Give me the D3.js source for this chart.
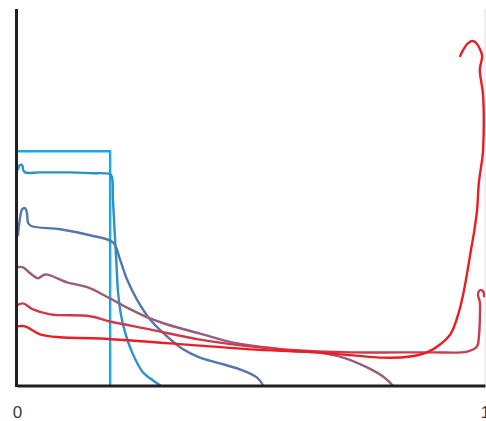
<!DOCTYPE html>
<html>
<head>
<meta charset="utf-8">
<script src="https://cdn.jsdelivr.net/npm/d3@7"></script>
<style>
  html, body { margin: 0; padding: 0; background: #fff; }
  svg { display: block; }
  .axis text { font-family: "Liberation Sans", Arial, sans-serif; font-size: 17px; fill: #3a3a3a; }
  .curve { fill: none; stroke-width: 2.4; stroke-linejoin: round; stroke-linecap: round; }
</style>
</head>
<body>
<div id="chart"></div>
<script>
// x values 0..1, y values in arbitrary units 0..100
const tickLabels = [0, 1];

const lightBlue = [[0, 62.2], [0.199, 62.2], [0.199, 0]];

const midBlue = [[0.002, 57.4], [0.006, 58.5], [0.011, 58.5], [0.013, 57.4], [0.017, 56.6], [0.049, 56.6],
  [0.107, 56.6], [0.156, 56.4], [0.199, 56.1], [0.203, 55.3], [0.205, 49.5], [0.208, 42.3], [0.212, 33.5],
  [0.216, 24.7], [0.222, 18.9], [0.231, 14.1], [0.246, 8.8], [0.269, 3.5], [0.288, 1.6], [0.306, 0]];

const steelBlue = [[0.002, 39.9], [0.006, 44.1], [0.011, 46.8], [0.017, 47.1], [0.021, 46.0], [0.024, 43.1],
  [0.032, 42.3], [0.092, 41.5], [0.156, 39.9], [0.205, 38.0], [0.220, 33.5], [0.235, 28.2], [0.256, 22.9],
  [0.284, 17.6], [0.321, 13.0], [0.355, 9.6], [0.391, 7.4], [0.427, 6.1], [0.476, 4.3], [0.513, 2.1], [0.526, 0]];

const mauve = [[0, 31.4], [0.013, 31.4], [0.028, 29.8], [0.045, 28.5], [0.060, 29.5], [0.107, 27.4],
  [0.150, 26.1], [0.199, 23.1], [0.235, 20.7], [0.284, 17.8], [0.321, 16.2], [0.391, 13.8], [0.462, 11.4],
  [0.534, 10.1], [0.605, 9.0], [0.641, 8.8], [0.697, 7.4], [0.748, 4.8], [0.782, 2.4], [0.803, 0]];

const darkRed = [[0, 21.3], [0.013, 21.8], [0.034, 20.2], [0.071, 18.9], [0.156, 18.4], [0.199, 17.0],
  [0.284, 14.9], [0.391, 12.2], [0.498, 10.4], [0.605, 9.3], [0.712, 8.8], [0.818, 8.8], [0.889, 8.8],
  [0.962, 9.0], [0.983, 10.4], [0.987, 13.0], [0.989, 17.6], [0.989, 22.1], [0.985, 24.2], [0.989, 25.3],
  [0.996, 25.0], [0.998, 23.7]];

const brightRed = [[0, 15.7], [0.017, 15.7], [0.049, 13.6], [0.092, 12.8], [0.177, 12.5], [0.391, 10.6],
  [0.498, 9.6], [0.641, 8.8], [0.782, 7.4], [0.840, 7.7], [0.876, 8.8], [0.904, 10.9], [0.927, 13.8],
  [0.943, 19.0], [0.953, 24.0], [0.962, 30.0], [0.970, 36.0], [0.977, 41.0], [0.983, 46.5], [0.987, 54.0],
  [0.994, 60.1], [0.996, 62.8], [0.996, 76.9], [0.989, 84.0], [0.994, 87.5], [0.989, 89.4], [0.979, 91.2],
  [0.972, 91.5], [0.962, 90.7], [0.951, 88.6], [0.947, 87.5]];

const series = [
  { name: "lightBlue", values: lightBlue, color: "#17a9e1", step: true },
  { name: "midBlue", values: midBlue, color: "#2a91cb" },
  { name: "steelBlue", values: steelBlue, color: "#5675a9" },
  { name: "mauve", values: mauve, color: "#985d7d" },
  { name: "darkRed", values: darkRed, color: "#cc3a4d" },
  { name: "brightRed", values: brightRed, color: "#ec1c24" }
];

const width = 486, height = 421;
const margin = { top: 9, right: 1, bottom: 35.5, left: 17 };

const svg = d3.select("#chart").append("svg")
  .attr("width", width)
  .attr("height", height);

const x = d3.scaleLinear().domain([0, 1]).range([margin.left, width - margin.right]);
const y = d3.scaleLinear().domain([0, 100]).range([height - margin.bottom, margin.top]);

// faint line at x = 1
svg.append("line")
  .attr("x1", x(1)).attr("x2", x(1))
  .attr("y1", y(100)).attr("y2", y(0))
  .attr("stroke", "#dedede")
  .attr("stroke-width", 1);

//curves
const smooth = d3.line()
  .x(d => x(d[0]))
  .y(d => y(d[1]))
  .curve(d3.curveCatmullRom.alpha(0.5));
const straight = d3.line()
  .x(d => x(d[0]))
  .y(d => y(d[1]));

svg.append("g").selectAll("path")
  .data(series)
  .enter().append("path")
  .attr("class", "curve")
  .attr("stroke", d => d.color)
  .attr("stroke-width", d => d.step ? 2 : 2.4)
  .attr("d", d => d.step ? straight(d.values) : smooth(d.values));

//axes
let xAxis = svg.append("g")
  .attr("class", "axis")
  .attr("transform", "translate(0," + y(0) + ")")
  .call(d3.axisBottom(x).tickValues(tickLabels).tickFormat(d3.format("d"))
    .tickSize(0).tickPadding(20).tickSizeOuter(0));
xAxis.select(".domain").attr("stroke", "#231f20").attr("stroke-width", 3);

let yAxis = svg.append("g")
  .attr("class", "axis")
  .attr("transform", "translate(" + (x(0) - 0.5) + ",0)")
  .call(d3.axisLeft(y).tickValues([]).tickSizeOuter(0));
yAxis.select(".domain").attr("stroke", "#231f20").attr("stroke-width", 3)
  .attr("d", "M0," + y(100) + "V" + (y(0) + 1.5));
</script>
</body>
</html>
